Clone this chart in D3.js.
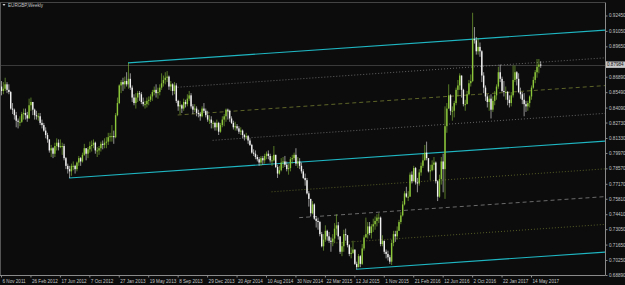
<!DOCTYPE html>
<html lang="en">
  <head>
    <meta charset="UTF-8" />
    <script src="https://d3js.org/d3.v7.min.js"></script>
    <style>
      html, body { margin: 0; padding: 0; background: #0c0c0c; }
      svg text { font-family: "Liberation Sans", Arial, sans-serif; font-size: 4.6px; fill: #c4c4c4; }
    </style>
  </head>
  <body>
    <svg id="chart" width="625" height="285"></svg>
    <script>
      // EURGBP weekly, first bar = week of 6 Nov 2011
      const firstWeek = "6 Nov 2011";
      const opens = [0.8600,0.8560,0.8580,0.8620,0.8570,0.8550,0.8400,0.8390,0.8340,0.8290,
        0.8280,0.8280,0.8350,0.8360,0.8340,0.8310,0.8430,0.8460,0.8390,0.8340,
        0.8330,0.8330,0.8270,0.8250,0.8200,0.8160,0.8120,0.8020,0.8040,0.7990,
        0.8060,0.8090,0.8050,0.8060,0.8060,0.7950,0.7880,0.7850,0.7830,0.7880,
        0.7880,0.7850,0.7910,0.7950,0.7920,0.7980,0.8040,0.7990,0.8030,0.8060,
        0.8070,0.8090,0.8020,0.8020,0.8040,0.8080,0.8070,0.8090,0.8100,0.8140,
        0.8150,0.8150,0.8140,0.8340,0.8450,0.8610,0.8640,0.8620,0.8650,0.8620,
        0.8670,0.8590,0.8500,0.8450,0.8500,0.8540,0.8530,0.8460,0.8440,0.8440,
        0.8470,0.8480,0.8510,0.8550,0.8570,0.8540,0.8550,0.8590,0.8630,0.8660,
        0.8680,0.8690,0.8600,0.8620,0.8560,0.8610,0.8470,0.8420,0.8430,0.8400,
        0.8460,0.8440,0.8490,0.8520,0.8420,0.8390,0.8400,0.8360,0.8350,0.8330,
        0.8400,0.8380,0.8340,0.8300,0.8300,0.8270,0.8270,0.8230,0.8270,0.8190,
        0.8250,0.8300,0.8330,0.8390,0.8380,0.8310,0.8270,0.8230,0.8240,0.8220,
        0.8190,0.8200,0.8160,0.8140,0.8150,0.8110,0.8070,0.8000,0.7990,0.7960,
        0.7940,0.7910,0.7950,0.7930,0.7970,0.7990,0.7970,0.7930,0.7930,0.7980,
        0.7870,0.7810,0.7840,0.7910,0.7920,0.7890,0.7850,0.7860,0.7940,0.7950,
        0.7980,0.7900,0.7920,0.7880,0.7830,0.7770,0.7750,0.7630,0.7580,0.7450,
        0.7530,0.7400,0.7380,0.7370,0.7260,0.7150,0.7210,0.7290,0.7240,0.7200,
        0.7190,0.7220,0.7310,0.7340,0.7240,0.7100,0.7150,0.7260,0.7250,0.7160,
        0.7080,0.7090,0.7120,0.6990,0.6960,0.7060,0.6990,0.7130,0.7230,0.7260,
        0.7330,0.7270,0.7330,0.7350,0.7380,0.7410,0.7410,0.7170,0.7200,0.7100,
        0.7080,0.7050,0.7010,0.7180,0.7260,0.7240,0.7290,0.7370,0.7430,0.7530,
        0.7630,0.7600,0.7600,0.7800,0.7740,0.7860,0.7730,0.7720,0.7820,0.7880,
        0.7930,0.8000,0.7950,0.7830,0.7840,0.7890,0.7910,0.7740,0.7600,0.7760,
        0.7920,0.7850,0.8240,0.8400,0.8520,0.8380,0.8380,0.8450,0.8570,0.8610,
        0.8700,0.8570,0.8440,0.8440,0.8530,0.8630,0.8650,0.9030,0.9020,0.8920,
        0.8960,0.8920,0.8700,0.8590,0.8510,0.8460,0.8490,0.8390,0.8470,0.8520,
        0.8600,0.8730,0.8670,0.8560,0.8550,0.8550,0.8480,0.8450,0.8520,0.8660,
        0.8730,0.8670,0.8550,0.8530,0.8480,0.8440,0.8420,0.8450,0.8510,0.8590,
        0.8660,0.8730,0.8780,0.8800];
      const highs = [0.8650,0.8640,0.8680,0.8640,0.8620,0.8560,0.8450,0.8400,0.8370,0.8310,
        0.8330,0.8370,0.8400,0.8400,0.8370,0.8490,0.8500,0.8430,0.8400,0.8380,
        0.8360,0.8360,0.8300,0.8270,0.8230,0.8180,0.8110,0.8070,0.8050,0.8090,
        0.8130,0.8120,0.8120,0.8090,0.8080,0.7960,0.7900,0.7880,0.7900,0.7920,
        0.7890,0.7920,0.7970,0.7960,0.8000,0.8080,0.8040,0.8050,0.8100,0.8110,
        0.8120,0.8100,0.8050,0.8060,0.8100,0.8110,0.8130,0.8140,0.8180,0.8180,
        0.8250,0.8200,0.8360,0.8500,0.8620,0.8660,0.8680,0.8690,0.8730,0.8815,
        0.8720,0.8610,0.8530,0.8540,0.8560,0.8560,0.8550,0.8500,0.8470,0.8500,
        0.8510,0.8530,0.8570,0.8600,0.8620,0.8590,0.8620,0.8720,0.8700,0.8730,
        0.8740,0.8700,0.8650,0.8630,0.8640,0.8630,0.8480,0.8470,0.8440,0.8490,
        0.8480,0.8530,0.8560,0.8540,0.8440,0.8440,0.8420,0.8390,0.8370,0.8420,
        0.8450,0.8400,0.8380,0.8340,0.8330,0.8290,0.8280,0.8300,0.8280,0.8270,
        0.8330,0.8350,0.8400,0.8400,0.8390,0.8330,0.8290,0.8280,0.8260,0.8240,
        0.8230,0.8210,0.8170,0.8180,0.8160,0.8130,0.8080,0.8030,0.8020,0.7980,
        0.7960,0.7970,0.7970,0.7990,0.8010,0.8020,0.7990,0.7970,0.8060,0.7980,
        0.7890,0.7880,0.7950,0.7960,0.7970,0.7920,0.7900,0.7960,0.7980,0.8000,
        0.8040,0.7960,0.7950,0.7910,0.7850,0.7810,0.7770,0.7650,0.7560,0.7560,
        0.7540,0.7420,0.7410,0.7380,0.7280,0.7260,0.7340,0.7300,0.7280,0.7230,
        0.7260,0.7360,0.7440,0.7370,0.7240,0.7190,0.7300,0.7310,0.7250,0.7170,
        0.7140,0.7200,0.7110,0.7010,0.7080,0.7070,0.7170,0.7250,0.7410,0.7370,
        0.7370,0.7350,0.7400,0.7420,0.7440,0.7450,0.7420,0.7250,0.7200,0.7120,
        0.7110,0.7070,0.7210,0.7290,0.7290,0.7330,0.7390,0.7460,0.7560,0.7650,
        0.7690,0.7650,0.7820,0.7830,0.7880,0.7870,0.7770,0.7850,0.7910,0.7990,
        0.8070,0.8100,0.7950,0.7890,0.7930,0.7960,0.7920,0.7750,0.7800,0.7960,
        0.7990,0.8420,0.8450,0.8620,0.8530,0.8420,0.8470,0.8590,0.8660,0.8720,
        0.8690,0.8580,0.8480,0.8560,0.8660,0.8710,0.9270,0.9140,0.9050,0.9040,
        0.9000,0.8930,0.8730,0.8610,0.8530,0.8520,0.8530,0.8510,0.8560,0.8620,
        0.8780,0.8800,0.8690,0.8650,0.8600,0.8560,0.8520,0.8550,0.8790,0.8790,
        0.8740,0.8720,0.8590,0.8550,0.8540,0.8470,0.8470,0.8520,0.8610,0.8690,
        0.8750,0.8850,0.8850,0.8830];
      const lows = [0.8520,0.8530,0.8560,0.8540,0.8530,0.8390,0.8350,0.8300,0.8230,0.8220,
        0.8240,0.8270,0.8300,0.8300,0.8280,0.8310,0.8380,0.8340,0.8300,0.8300,
        0.8290,0.8250,0.8220,0.8190,0.8130,0.8090,0.8000,0.7960,0.7950,0.7960,
        0.8020,0.8020,0.8040,0.7980,0.7930,0.7850,0.7810,0.7770,0.7790,0.7840,
        0.7810,0.7830,0.7880,0.7880,0.7910,0.7970,0.7930,0.7950,0.8000,0.8010,
        0.8040,0.7990,0.7960,0.7980,0.8010,0.8030,0.8040,0.8040,0.8070,0.8100,
        0.8100,0.8080,0.8130,0.8330,0.8440,0.8540,0.8560,0.8580,0.8600,0.8580,
        0.8570,0.8460,0.8430,0.8400,0.8460,0.8470,0.8440,0.8420,0.8400,0.8410,
        0.8430,0.8460,0.8470,0.8520,0.8500,0.8490,0.8520,0.8570,0.8600,0.8620,
        0.8640,0.8570,0.8560,0.8520,0.8530,0.8450,0.8380,0.8350,0.8360,0.8380,
        0.8410,0.8420,0.8470,0.8400,0.8350,0.8370,0.8330,0.8320,0.8290,0.8320,
        0.8360,0.8320,0.8280,0.8260,0.8220,0.8220,0.8200,0.8200,0.8160,0.8180,
        0.8230,0.8240,0.8280,0.8300,0.8280,0.8260,0.8210,0.8200,0.8200,0.8170,
        0.8160,0.8130,0.8110,0.8120,0.8080,0.8060,0.7990,0.7970,0.7940,0.7920,
        0.7880,0.7880,0.7890,0.7900,0.7940,0.7940,0.7910,0.7880,0.7920,0.7860,
        0.7770,0.7800,0.7830,0.7860,0.7870,0.7830,0.7800,0.7830,0.7900,0.7930,
        0.7880,0.7860,0.7850,0.7810,0.7760,0.7700,0.7620,0.7510,0.7420,0.7440,
        0.7390,0.7320,0.7300,0.7240,0.7140,0.7110,0.7190,0.7200,0.7180,0.7100,
        0.7150,0.7180,0.7250,0.7210,0.7080,0.7060,0.7100,0.7200,0.7140,0.7060,
        0.7040,0.7080,0.6980,0.6940,0.6960,0.6960,0.6980,0.7110,0.7230,0.7220,
        0.7250,0.7220,0.7280,0.7300,0.7330,0.7360,0.7150,0.7150,0.7080,0.7040,
        0.7020,0.6990,0.6980,0.7150,0.7190,0.7210,0.7290,0.7350,0.7420,0.7520,
        0.7590,0.7560,0.7610,0.7720,0.7740,0.7710,0.7640,0.7700,0.7790,0.7860,
        0.7930,0.7930,0.7820,0.7750,0.7830,0.7840,0.7720,0.7560,0.7590,0.7710,
        0.7640,0.7580,0.8180,0.8400,0.8340,0.8290,0.8320,0.8430,0.8510,0.8570,
        0.8500,0.8420,0.8380,0.8450,0.8520,0.8600,0.8640,0.8990,0.8890,0.8890,
        0.8870,0.8640,0.8540,0.8470,0.8410,0.8380,0.8310,0.8370,0.8430,0.8480,
        0.8580,0.8640,0.8550,0.8510,0.8480,0.8430,0.8410,0.8420,0.8500,0.8640,
        0.8610,0.8540,0.8490,0.8440,0.8330,0.8370,0.8380,0.8410,0.8480,0.8580,
        0.8630,0.8680,0.8720,0.8770];
      const closes = [0.8560,0.8580,0.8620,0.8570,0.8550,0.8400,0.8390,0.8340,0.8290,0.8280,
        0.8280,0.8350,0.8360,0.8340,0.8310,0.8430,0.8460,0.8390,0.8340,0.8330,
        0.8330,0.8270,0.8250,0.8200,0.8160,0.8120,0.8020,0.8040,0.7990,0.8060,
        0.8090,0.8050,0.8060,0.8060,0.7950,0.7880,0.7850,0.7830,0.7880,0.7880,
        0.7850,0.7910,0.7950,0.7920,0.7980,0.8040,0.7990,0.8030,0.8060,0.8070,
        0.8090,0.8020,0.8020,0.8040,0.8080,0.8070,0.8090,0.8100,0.8140,0.8150,
        0.8150,0.8140,0.8340,0.8450,0.8610,0.8640,0.8620,0.8650,0.8620,0.8670,
        0.8590,0.8500,0.8450,0.8500,0.8540,0.8530,0.8460,0.8440,0.8440,0.8470,
        0.8480,0.8510,0.8550,0.8570,0.8540,0.8550,0.8590,0.8630,0.8660,0.8680,
        0.8690,0.8600,0.8620,0.8560,0.8610,0.8470,0.8420,0.8430,0.8400,0.8460,
        0.8440,0.8490,0.8520,0.8420,0.8390,0.8400,0.8360,0.8350,0.8330,0.8400,
        0.8380,0.8340,0.8300,0.8300,0.8270,0.8270,0.8230,0.8270,0.8190,0.8250,
        0.8300,0.8330,0.8390,0.8380,0.8310,0.8270,0.8230,0.8240,0.8220,0.8190,
        0.8200,0.8160,0.8140,0.8150,0.8110,0.8070,0.8000,0.7990,0.7960,0.7940,
        0.7910,0.7950,0.7930,0.7970,0.7990,0.7970,0.7930,0.7930,0.7980,0.7870,
        0.7810,0.7840,0.7910,0.7920,0.7890,0.7850,0.7860,0.7940,0.7950,0.7980,
        0.7900,0.7920,0.7880,0.7830,0.7770,0.7750,0.7630,0.7580,0.7450,0.7530,
        0.7400,0.7380,0.7370,0.7260,0.7150,0.7210,0.7290,0.7240,0.7200,0.7190,
        0.7220,0.7310,0.7340,0.7240,0.7100,0.7150,0.7260,0.7250,0.7160,0.7080,
        0.7090,0.7120,0.6990,0.6960,0.7060,0.6990,0.7130,0.7230,0.7260,0.7330,
        0.7270,0.7330,0.7350,0.7380,0.7410,0.7410,0.7170,0.7200,0.7100,0.7080,
        0.7050,0.7010,0.7180,0.7260,0.7240,0.7290,0.7370,0.7430,0.7530,0.7630,
        0.7600,0.7600,0.7800,0.7740,0.7860,0.7730,0.7720,0.7820,0.7880,0.7930,
        0.8000,0.7950,0.7830,0.7840,0.7890,0.7910,0.7740,0.7600,0.7760,0.7920,
        0.7850,0.8240,0.8400,0.8520,0.8380,0.8380,0.8450,0.8570,0.8610,0.8700,
        0.8570,0.8440,0.8440,0.8530,0.8630,0.8650,0.9030,0.9020,0.8920,0.8960,
        0.8920,0.8700,0.8590,0.8510,0.8460,0.8490,0.8390,0.8470,0.8520,0.8600,
        0.8730,0.8670,0.8560,0.8550,0.8550,0.8480,0.8450,0.8520,0.8660,0.8730,
        0.8670,0.8550,0.8530,0.8480,0.8440,0.8420,0.8450,0.8510,0.8590,0.8660,
        0.8730,0.8780,0.8800,0.87984];

      const priceTicks = [0.92450, 0.91050, 0.89650, 0.88290, 0.86890, 0.85490, 0.84090, 0.82730, 0.81330,
        0.79970, 0.78570, 0.77170, 0.75810, 0.74410, 0.73050, 0.71650, 0.70250, 0.68890];
      const dateTicks = ["6 Nov 2011", "26 Feb 2012", "17 Jun 2012", "7 Oct 2012", "27 Jan 2013", "19 May 2013",
        "8 Sep 2013", "29 Dec 2013", "20 Apr 2014", "10 Aug 2014", "30 Nov 2014", "22 Mar 2015", "12 Jul 2015",
        "1 Nov 2015", "21 Feb 2016", "12 Jun 2016", "2 Oct 2016", "22 Jan 2017", "14 May 2017"];
      const lastPrice = 0.87984;

      // price channel: base line anchor + slope per week, width between main lines
      const channelAnchorDate = "22 Jul 2012";
      const channelAnchorPrice = 0.7770;
      const channelSlope = 0.0001149;
      const channelWidth = 0.1008;
      const channelLevels = [1, 0.75, 0.5, 0.25, 0, -0.25, -0.5, -0.75, -1];
      const channelStarts = ["3 Mar 2013", "8 Sep 2013", "8 Sep 2013", "19 Jan 2014", "22 Jul 2012",
        "31 Aug 2014", "14 Dec 2014", "12 Apr 2015", "19 Jul 2015"];

      const svg = d3.select("#chart");
      const W = 625, H = 285;
      const plotRight = 605, plotTop = 3, plotBottom = 275;
      const parseDate = d3.timeParse("%d %b %Y");
      const fmtDate = d3.timeFormat("%-d %b %Y");
      const fmtPrice = d3.format(".5f");

      const t0 = parseDate(firstWeek);
      const dates = closes.map((c, i) => d3.timeWeek.offset(t0, i));

      const x = d3.scaleTime()
        .domain([parseDate(dateTicks[0]), parseDate(dateTicks[dateTicks.length - 1])])
        .range([1, 531]);
      const y = d3.scaleLinear()
        .domain([priceTicks[priceTicks.length - 1], priceTicks[0]])
        .range([275, 15.5]);

      svg.append("rect").attr("width", W).attr("height", H).attr("fill", "#0c0c0c");

      svg.append("defs").append("clipPath").attr("id", "plot")
        .append("rect").attr("x", 0).attr("y", plotTop).attr("width", plotRight).attr("height", plotBottom - plotTop);

      const plot = svg.append("g").attr("clip-path", "url(#plot)");

      // current price line
      plot.append("line")
        .attr("x1", 0).attr("x2", plotRight)
        .attr("y1", Math.round(y(lastPrice)) + 0.5).attr("y2", Math.round(y(lastPrice)) + 0.5)
        .attr("stroke", "#3a3a3a").attr("stroke-width", 1);

      // channel lines
      const styles = {
        main: { stroke: "#1fb6c2", width: 1.1, dash: null },
        greyDot: { stroke: "#7a7a7a", width: 0.8, dash: "1,2" },
        oliveDash: { stroke: "#5d6428", width: 1, dash: "4,3" },
        greyDash: { stroke: "#6a6a6a", width: 1, dash: "4,3" },
        oliveDot: { stroke: "#5d6428", width: 0.9, dash: "1,2" }
      };
      const levelStyle = l => {
        if (Math.abs(l) === 1 || l === 0) return styles.main;
        if (l === 0.5) return styles.oliveDash;
        if (l === -0.5) return styles.greyDash;
        if (l > 0) return styles.greyDot;
        return styles.oliveDot;
      };
      const anchor = parseDate(channelAnchorDate);
      const weekMs = 7 * 864e5;
      const chanPrice = (d, l) => channelAnchorPrice + channelSlope * (d - anchor) / weekMs + l * channelWidth;
      const endDate = x.invert(plotRight + 2);

      channelLevels.forEach((l, k) => {
        const s = levelStyle(l);
        const d0 = parseDate(channelStarts[k]);
        plot.append("line")
          .attr("x1", x(d0)).attr("y1", y(chanPrice(d0, l)))
          .attr("x2", x(endDate)).attr("y2", y(chanPrice(endDate, l)))
          .attr("stroke", s.stroke).attr("stroke-width", s.width)
          .attr("stroke-dasharray", s.dash);
      });

      // candles
      const bars = dates.map((d, i) => ({ d, o: opens[i], h: highs[i], l: lows[i], c: closes[i] }));
      const up = "#8cc63a", down = "#f2f2f2";
      const candle = plot.append("g").selectAll("g").data(bars).join("g");
      candle.append("line")
        .attr("x1", d => x(d.d) + 0.5).attr("x2", d => x(d.d) + 0.5)
        .attr("y1", d => y(Math.max(d.h, d.o, d.c))).attr("y2", d => y(Math.min(d.l, d.o, d.c)))
        .attr("stroke", d => d.c >= d.o ? up : down).attr("stroke-opacity", 0.65).attr("stroke-width", 0.9);
      candle.append("rect")
        .attr("x", d => x(d.d) - 0.2).attr("width", 1.4)
        .attr("y", d => y(Math.max(d.o, d.c)))
        .attr("height", d => Math.max(1, y(Math.min(d.o, d.c)) - y(Math.max(d.o, d.c))))
        .attr("fill", d => d.c >= d.o ? up : down);

      // frame
      svg.append("line").attr("x1", 0).attr("x2", plotRight).attr("y1", 2.5).attr("y2", 2.5).attr("stroke", "#444");
      svg.append("line").attr("x1", 0.5).attr("x2", 0.5).attr("y1", 2.5).attr("y2", plotBottom).attr("stroke", "#555");

      // price axis (the label under the last-price box is hidden, as in the terminal)
      const ly = y(lastPrice);
      const yAxis = svg.append("g").attr("transform", `translate(${plotRight + 0.5},0)`)
        .call(d3.axisRight(y).tickValues(priceTicks)
          .tickFormat(v => Math.abs(y(v) - ly) < 6 ? "" : fmtPrice(v))
          .tickSize(2).tickPadding(1.5));
      yAxis.select(".domain").attr("stroke", "#8a8a8a").attr("d", `M0,2.5V${plotBottom + 0.5}`);
      yAxis.selectAll(".tick line").attr("stroke", "#8a8a8a");
      yAxis.selectAll(".tick text").attr("fill", "#c4c4c4").attr("font-size", null).attr("font-family", null);

      // last price box
      svg.append("rect").attr("x", plotRight + 1).attr("y", ly - 3.2).attr("width", 19).attr("height", 6.4).attr("fill", "#c8c8c8");
      svg.append("text").attr("x", plotRight + 2).attr("y", ly).attr("dy", "0.32em").style("fill", "#111").text(fmtPrice(lastPrice));

      // time axis
      const xAxis = svg.append("g").attr("transform", `translate(0,${plotBottom + 0.5})`)
        .call(d3.axisBottom(x).tickValues(dateTicks.map(parseDate)).tickFormat(fmtDate).tickSize(2).tickPadding(2));
      xAxis.select(".domain").attr("stroke", "#8a8a8a").attr("d", `M0,0H${plotRight}`);
      xAxis.selectAll(".tick line").attr("stroke", "#8a8a8a");
      xAxis.selectAll(".tick text").attr("text-anchor", "start").attr("x", 1).attr("dy", "0.71em")
        .attr("fill", "#c4c4c4").attr("font-size", null).attr("font-family", null);

      // title
      svg.append("path").attr("d", "M2.5,4 L5.5,4 L4,6 Z").attr("fill", "#d0d0d0");
      svg.append("text").attr("x", 8).attr("y", 6.6).text("EURGBP,Weekly");
    </script>
  </body>
</html>
